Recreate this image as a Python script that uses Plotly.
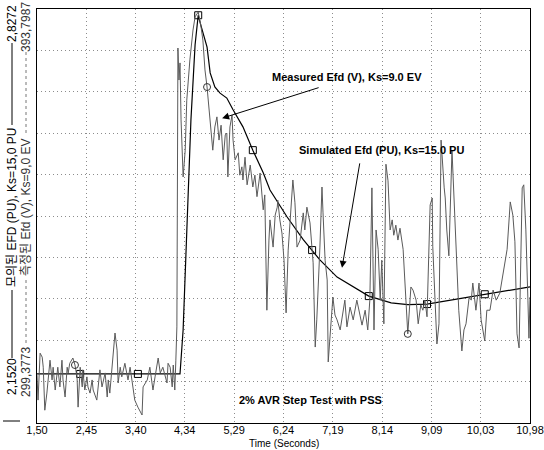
import plotly.graph_objects as go

# ---- axis definitions -------------------------------------------------------
tick_vals = [1.50, 2.45, 3.40, 4.34, 5.29, 6.24, 7.19, 8.14, 9.09, 10.03, 10.98]
tick_text = ["1,50", "2,45", "3,40", "4,34", "5,29", "6,24", "7,19", "8,14",
             "9,09", "10,03", "10,98"]

pu_range = [2.1520, 2.8272]       # simulated Efd scale (PU)
v_range = [299.3773, 393.7987]    # measured Efd scale (V)
pu_labels = ["2,1520", "2,8272"]
v_labels = ["299,3773", "393,7987"]

# ---- simulated Efd (PU), Ks = 15.0 ------------------------------------------
sim_t = [1.50, 2.33, 3.44, 4.25, 4.31, 4.38, 4.46, 4.54, 4.60, 4.65, 4.77,
         4.83, 4.92, 5.02, 5.15, 5.27, 5.46, 5.65, 5.85, 5.98, 6.31, 6.62,
         6.79, 6.94, 7.27, 7.58, 7.88, 8.31, 8.63, 9.00, 9.48, 10.11, 10.46,
         10.98]
sim_pu = [2.232, 2.232, 2.232, 2.232, 2.304, 2.467, 2.646, 2.769, 2.817, 2.801,
          2.765, 2.723, 2.700, 2.690, 2.682, 2.663, 2.635, 2.597, 2.560, 2.532,
          2.488, 2.451, 2.434, 2.418, 2.390, 2.374, 2.359, 2.348, 2.345, 2.346,
          2.353, 2.362, 2.367, 2.374]
sim_marker_idx = [1, 2, 8, 17, 22, 26, 29, 31]

# ---- measured Efd (V), Ks = 9.0 ---------------------------------------------
meas_t = [
    1.50, 1.52, 1.56, 1.60, 1.62, 1.65, 1.69, 1.75, 1.79, 1.81, 1.85, 1.88,
    1.90, 1.94, 1.98, 2.00, 2.04, 2.08, 2.10, 2.13, 2.17, 2.19, 2.23, 2.27,
    2.29, 2.33, 2.37, 2.38, 2.42, 2.46, 2.48, 2.52, 2.56, 2.58, 2.65, 2.71,
    2.75, 2.81, 2.85, 2.87, 2.90, 2.94, 2.96, 3.00, 3.04, 3.06, 3.10, 3.13,
    3.19, 3.23, 3.25, 3.29, 3.35, 3.38, 3.44, 3.52, 3.54, 3.62, 3.67, 3.73,
    3.77, 3.81, 3.83, 3.87, 3.92, 4.00, 4.02, 4.06, 4.10, 4.12, 4.15, 4.17,
    4.19,
    4.21, 4.23, 4.25, 4.27, 4.31, 4.35, 4.38, 4.44, 4.50, 4.54, 4.60, 4.65,
    4.69, 4.73, 4.77, 4.81, 4.85, 4.88, 4.92, 4.96, 5.00, 5.04, 5.08, 5.12,
    5.15, 5.17, 5.21, 5.25, 5.27, 5.31, 5.37, 5.40, 5.44, 5.46, 5.50, 5.54,
    5.60, 5.65, 5.69, 5.73, 5.79, 5.85, 5.88, 5.92, 5.96, 5.98, 6.04, 6.08,
    6.12, 6.13, 6.17, 6.21, 6.25, 6.29, 6.33, 6.38, 6.42, 6.46, 6.50, 6.56,
    6.62, 6.65, 6.69, 6.75, 6.81, 6.85, 6.88, 6.94, 6.98, 7.00, 7.04, 7.08,
    7.10, 7.13, 7.19, 7.23, 7.27, 7.33, 7.38, 7.42, 7.46, 7.52, 7.58, 7.65,
    7.71, 7.75, 7.81, 7.86, 7.90, 7.94, 7.98, 8.02, 8.06, 8.10, 8.13, 8.17,
    8.21, 8.25, 8.29, 8.33, 8.36, 8.40, 8.44, 8.48, 8.54, 8.60, 8.63, 8.69,
    8.73, 8.79, 8.83, 8.88, 8.92, 8.96, 9.00, 9.06, 9.10, 9.11, 9.15, 9.19,
    9.23, 9.27, 9.33, 9.35, 9.38, 9.42, 9.48, 9.52, 9.56, 9.61, 9.67, 9.71,
    9.75, 9.81, 9.85, 9.88, 9.94, 10.00, 10.04, 10.08, 10.11, 10.15, 10.21,
    10.27, 10.33, 10.40, 10.46, 10.54, 10.60, 10.65, 10.69, 10.73, 10.77,
    10.81, 10.83, 10.86, 10.90, 10.94, 10.96, 10.98]
meas_v = [
    310.3, 304.6, 315.3, 314.4, 312.1, 302.3, 306.2, 313.7, 309.2, 312.1, 306.9, 309.9,
    312.1, 307.6, 313.7, 309.2, 305.3, 312.1, 310.8, 313.0, 313.7, 314.2, 312.6, 309.9,
    303.0, 312.1, 307.6, 311.5, 306.9, 309.9, 307.6, 306.2, 309.2, 306.9, 304.6, 311.5,
    307.6, 310.8, 305.3, 309.2, 306.2, 311.5, 315.3, 319.9, 316.0, 308.5, 312.1, 309.9,
    313.0, 310.8, 309.2, 312.1, 307.6, 304.6, 303.0, 301.2, 307.6, 309.2, 312.1, 306.9,
    309.9, 313.0, 314.2, 310.8, 312.1, 308.5, 313.0, 312.1, 307.6, 312.6, 306.9, 313.7,
    321.3,
    384.9, 377.6, 381.5, 368.5, 355.5, 361.6, 373.0, 382.2, 389.0, 392.0, 393.1, 390.1,
    386.7, 379.9, 376.0, 370.8, 367.3, 361.6, 366.9, 369.2, 363.9, 367.3, 359.4, 365.1,
    365.5, 355.5, 366.9, 369.6, 363.9, 359.4, 361.0, 355.9, 357.8, 354.8, 360.0, 353.7,
    358.2, 353.2, 355.9, 351.0, 356.4, 348.0, 351.4, 325.1, 341.1, 345.7, 339.5, 346.8,
    348.6, 350.2, 345.7, 342.7, 336.5, 324.5, 338.8, 348.0, 354.8, 349.6, 339.5, 341.1,
    347.3, 343.4, 348.6, 345.0, 335.9, 316.7, 322.9, 339.5, 353.2, 347.3, 336.5, 332.0,
    313.3, 318.3, 328.1, 324.0, 322.9, 320.6, 324.5, 327.4, 321.3, 325.8, 322.9, 327.4,
    324.0, 321.7, 325.1, 320.6, 327.4, 353.0, 320.6, 343.4, 339.0, 327.4, 336.5, 322.0,
    358.4, 354.6, 343.4, 345.7, 342.2, 344.5, 341.1, 343.8, 339.0, 327.4, 319.7, 330.4,
    329.7, 327.4, 322.0, 326.3, 325.1, 327.4, 323.6, 349.1, 350.7, 339.7, 327.4, 317.4,
    322.0, 363.9, 353.0, 350.7, 343.4, 337.5, 361.6, 351.4, 339.0, 325.1, 315.8, 320.6,
    322.0, 328.1, 327.4, 331.3, 325.1, 331.3, 322.9, 320.3, 318.1, 325.1, 325.1,
    329.7, 327.4, 329.0, 333.6, 339.0, 349.8, 346.8, 340.7, 319.7, 316.5,
    336.5, 353.0, 353.7, 343.6, 327.4, 318.7, 328.1]
meas_marker_t = [2.23, 4.77, 8.63]

# ---- figure -------------------------------------------------------------------
AX_FONT = "Liberation Sans Narrow, Arial Narrow, Liberation Sans, Noto Sans CJK KR, sans-serif"
NOTE_FONT = "Liberation Sans, Arial, sans-serif"

# plot-area geometry in pixels (used to place the side labels)
L, T, W, H = 37, 9, 493, 414

fig = go.Figure()

fig.add_trace(go.Scatter(
    x=meas_t, y=meas_v, yaxis="y2", mode="lines",
    line=dict(color="#5a5a5a", width=1), showlegend=False, hoverinfo="skip"))
meas_idx = [meas_t.index(t) for t in meas_marker_t]
fig.add_trace(go.Scatter(
    x=[meas_t[i] for i in meas_idx], y=[meas_v[i] for i in meas_idx], yaxis="y2",
    mode="markers",
    marker=dict(symbol="circle-open", size=7, color="#333", line=dict(width=1)),
    showlegend=False, hoverinfo="skip"))

fig.add_trace(go.Scatter(
    x=sim_t, y=sim_pu, mode="lines",
    line=dict(color="black", width=1.2), showlegend=False, hoverinfo="skip"))
fig.add_trace(go.Scatter(
    x=[sim_t[i] for i in sim_marker_idx], y=[sim_pu[i] for i in sim_marker_idx],
    mode="markers",
    marker=dict(symbol="square-open", size=7, color="black", line=dict(width=1)),
    showlegend=False, hoverinfo="skip"))

grid_dash = "1px,3px"
fig.update_layout(
    width=544, height=450,
    margin=dict(l=L, r=544 - L - W, t=T, b=450 - T - H, autoexpand=False),
    paper_bgcolor="white", plot_bgcolor="white",
    xaxis=dict(range=[1.50, 10.98], tickmode="array", tickvals=tick_vals,
               ticktext=tick_text, showgrid=True, gridcolor="#8c8c8c",
               griddash=grid_dash, gridwidth=1, zeroline=False, automargin=False,
               showline=True, mirror=True, linecolor="black", linewidth=1,
               ticks="", ticklabelstandoff=-3,
               tickfont=dict(family=AX_FONT, size=11, color="black")),
    yaxis=dict(range=pu_range, tick0=pu_range[0],
               dtick=(pu_range[1] - pu_range[0]) / 10, showticklabels=False,
               showgrid=True, gridcolor="#8c8c8c", griddash=grid_dash,
               zeroline=False, showline=True, mirror=True, linecolor="black",
               linewidth=1, ticks="", automargin=False),
    yaxis2=dict(range=v_range, overlaying="y", visible=False, automargin=False),
)

# x-axis title
fig.add_annotation(text="Time (Seconds)", xref="paper", yref="paper", x=0.5, y=0,
                   yshift=-20, xanchor="center", yanchor="middle", showarrow=False,
                   font=dict(family=AX_FONT, size=10, color="black"))


# left-hand scale labels (rotated)
def side_text(txt, xpix, ypix, color="black"):
    fig.add_annotation(text=txt, xref="paper", yref="paper", x=0,
                       xshift=xpix - L, y=(T + H - ypix) / H, textangle=-90,
                       showarrow=False, xanchor="center", yanchor="middle",
                       font=dict(family=AX_FONT, size=12, color=color))


def side_line(xpix, y0, y1, color="black", dash="solid"):
    fig.add_shape(type="line", xref="paper", yref="paper",
                  x0=(xpix - L) / W, x1=(xpix - L) / W,
                  y0=(T + H - y0) / H, y1=(T + H - y1) / H,
                  line=dict(color=color, width=1, dash=dash))


side_text(pu_labels[0], 12, 377)
side_text("모의된 EFD (PU), Ks=15,0 PU", 12, 207)
side_text(pu_labels[1], 12, 24)
side_line(12, 290, 358)
side_line(12, 43, 125)

side_text(v_labels[0], 26, 372, "#333")
side_text("측정된 Efd (V), Ks=9,0 EV", 26, 207, "#333")
side_text(v_labels[1], 26, 27, "#333")
side_line(26, 280, 346, "#777", "dot")
side_line(26, 52, 136, "#777", "dot")

# short tick at the lower left corner
fig.add_shape(type="line", xref="paper", yref="paper",
              x0=(3 - L) / W, x1=(20 - L) / W, y0=(T + H - 421) / H,
              y1=(T + H - 421) / H, line=dict(color="black", width=1))

# callouts
fig.add_annotation(text="<b>Measured Efd (V), Ks=9.0 EV</b>", xref="paper",
                   yref="paper", x=(347 - L) / W, y=(T + H - 77) / H,
                   xanchor="center", yanchor="middle", showarrow=False,
                   font=dict(family=NOTE_FONT, size=11, color="black"))
fig.add_annotation(text="", x=5.06, y=368.9, xref="x", yref="y2",
                   showarrow=True, arrowhead=2, arrowsize=1.4, arrowwidth=1,
                   arrowcolor="black", ax=98, ay=-31)

fig.add_annotation(text="<b>Simulated Efd (PU), Ks=15.0 PU</b>", xref="paper",
                   yref="paper", x=(381 - L) / W, y=(T + H - 150) / H,
                   xanchor="center", yanchor="middle", showarrow=False,
                   font=dict(family=NOTE_FONT, size=11, color="black"))
fig.add_annotation(text="", x=7.365, y=2.405, xref="x", yref="y",
                   showarrow=True, arrowhead=2, arrowsize=1.4, arrowwidth=1,
                   arrowcolor="black", ax=18, ay=-106)

fig.add_annotation(text="<b>2% AVR Step Test with PSS</b>", xref="paper",
                   yref="paper", x=(310 - L) / W, y=(T + H - 400) / H,
                   xanchor="center", yanchor="middle", showarrow=False,
                   font=dict(family=NOTE_FONT, size=11, color="black"))

fig.write_html("out.html")
